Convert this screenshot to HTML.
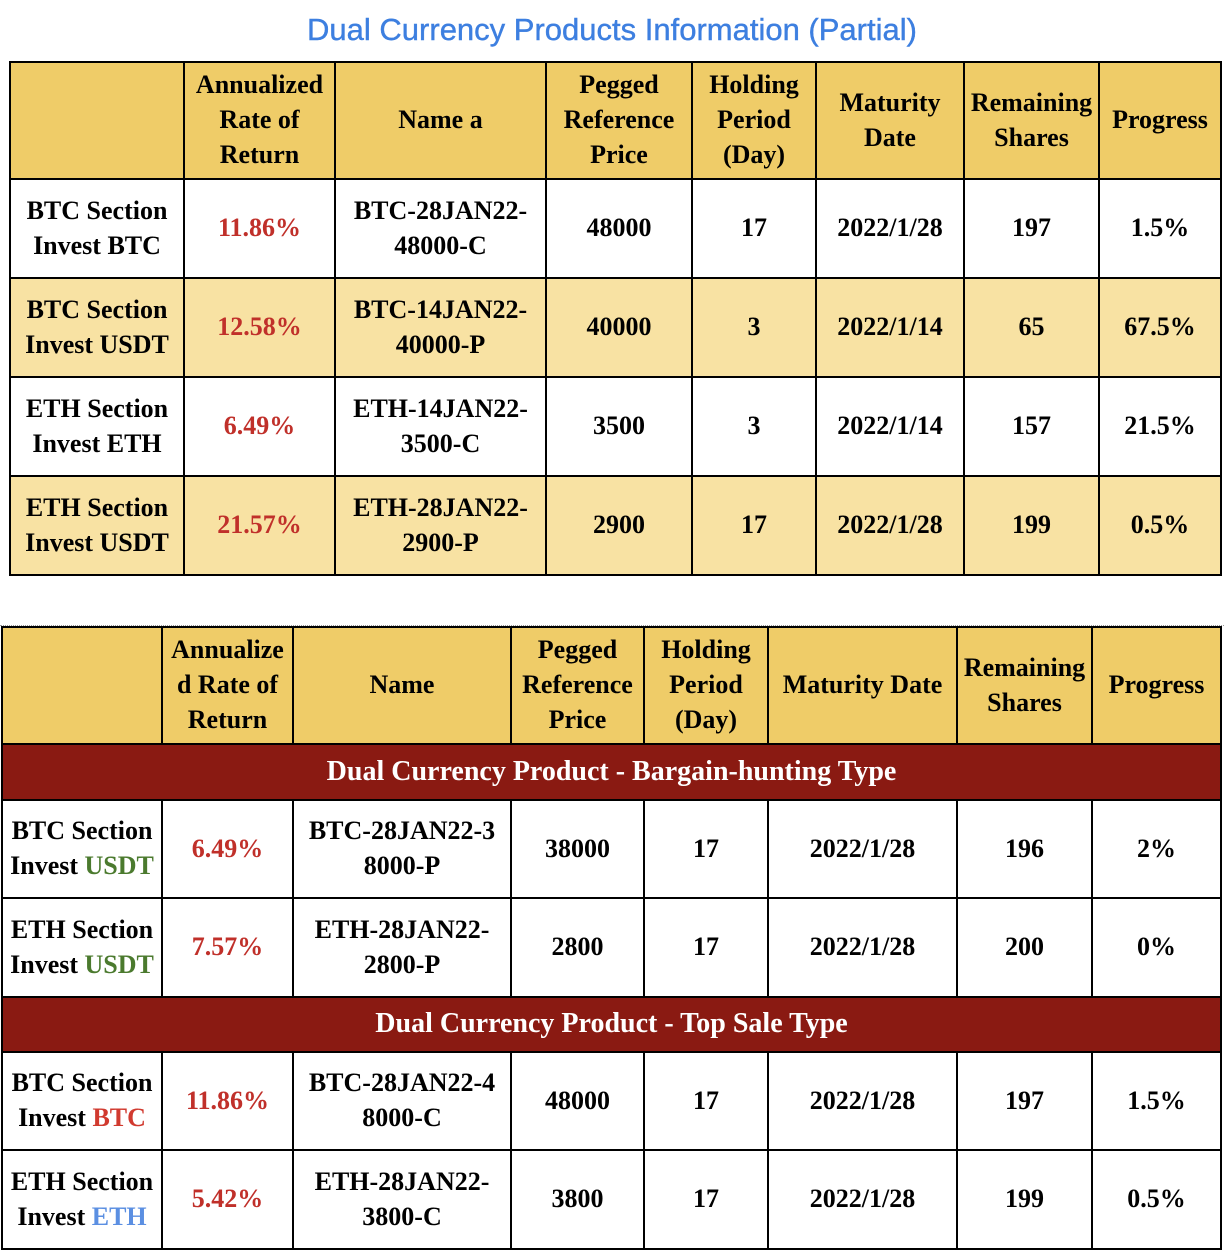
<!DOCTYPE html>
<html><head><meta charset="utf-8"><style>
body{margin:0;width:1224px;height:1252px;background:#fff;position:relative;overflow:hidden;font-family:"Liberation Serif",serif;}
.title{position:absolute;top:12px;left:0;width:1224px;text-align:center;font-family:"Liberation Sans",sans-serif;font-size:31px;color:#3d7fe0;-webkit-text-stroke:0.4px #3d7fe0;}
table{position:absolute;border-collapse:collapse;table-layout:fixed;}
td{border:2px solid #000;text-align:center;vertical-align:middle;font-weight:bold;font-size:26px;line-height:35px;padding:0 0 2px 0;color:#000;white-space:nowrap;}
.h td{background:#efcc68;}
.a td{background:#f8e2a3;}
.r{color:#c0302a;}
.bar td{background:#8a1a12;color:#fff;font-size:28px;}
.g{color:#4b7a2e}.b{color:#5b8fe2}.rd{color:#d13a2f}
.dots{position:absolute;left:0;top:625px;width:1224px;border-top:1px dotted #999;}
</style></head><body>
<div class="title">Dual Currency Products Information (Partial)</div>
<table style="left:9px;top:61px;width:1213px">
<colgroup><col style="width:174px"><col style="width:151px"><col style="width:211px"><col style="width:146px"><col style="width:124px"><col style="width:148px"><col style="width:135px"><col style="width:122px"></colgroup>
<tr class="h" style="height:117px"><td></td><td>Annualized<br>Rate of<br>Return</td><td>Name a</td><td>Pegged<br>Reference<br>Price</td><td>Holding<br>Period<br>(Day)</td><td>Maturity<br>Date</td><td>Remaining<br>Shares</td><td>Progress</td></tr>
<tr style="height:99px"><td>BTC Section<br>Invest BTC</td><td class="r">11.86%</td><td>BTC-28JAN22-<br>48000-C</td><td>48000</td><td>17</td><td>2022/1/28</td><td>197</td><td>1.5%</td></tr>
<tr class="a" style="height:99px"><td>BTC Section<br>Invest USDT</td><td class="r">12.58%</td><td>BTC-14JAN22-<br>40000-P</td><td>40000</td><td>3</td><td>2022/1/14</td><td>65</td><td>67.5%</td></tr>
<tr style="height:99px"><td>ETH Section<br>Invest ETH</td><td class="r">6.49%</td><td>ETH-14JAN22-<br>3500-C</td><td>3500</td><td>3</td><td>2022/1/14</td><td>157</td><td>21.5%</td></tr>
<tr class="a" style="height:99px"><td>ETH Section<br>Invest USDT</td><td class="r">21.57%</td><td>ETH-28JAN22-<br>2900-P</td><td>2900</td><td>17</td><td>2022/1/28</td><td>199</td><td>0.5%</td></tr>
</table>
<div class="dots"></div>
<table style="left:1px;top:626px;width:1219px">
<colgroup><col style="width:160px"><col style="width:131px"><col style="width:218px"><col style="width:133px"><col style="width:124px"><col style="width:189px"><col style="width:135px"><col style="width:129px"></colgroup>
<tr class="h" style="height:117px"><td></td><td>Annualize<br>d Rate of<br>Return</td><td>Name</td><td>Pegged<br>Reference<br>Price</td><td>Holding<br>Period<br>(Day)</td><td>Maturity Date</td><td>Remaining<br>Shares</td><td>Progress</td></tr>
<tr class="bar" style="height:56px"><td colspan="8">Dual Currency Product - Bargain-hunting Type</td></tr>
<tr style="height:98px"><td>BTC Section<br>Invest <span class="g">USDT</span></td><td class="r">6.49%</td><td>BTC-28JAN22-3<br>8000-P</td><td>38000</td><td>17</td><td>2022/1/28</td><td>196</td><td>2%</td></tr>
<tr style="height:99px"><td>ETH Section<br>Invest <span class="g">USDT</span></td><td class="r">7.57%</td><td>ETH-28JAN22-<br>2800-P</td><td>2800</td><td>17</td><td>2022/1/28</td><td>200</td><td>0%</td></tr>
<tr class="bar" style="height:55px"><td colspan="8">Dual Currency Product - Top Sale Type</td></tr>
<tr style="height:98px"><td>BTC Section<br>Invest <span class="rd">BTC</span></td><td class="r">11.86%</td><td>BTC-28JAN22-4<br>8000-C</td><td>48000</td><td>17</td><td>2022/1/28</td><td>197</td><td>1.5%</td></tr>
<tr style="height:99px"><td>ETH Section<br>Invest <span class="b">ETH</span></td><td class="r">5.42%</td><td>ETH-28JAN22-<br>3800-C</td><td>3800</td><td>17</td><td>2022/1/28</td><td>199</td><td>0.5%</td></tr>
</table>
</body></html>
